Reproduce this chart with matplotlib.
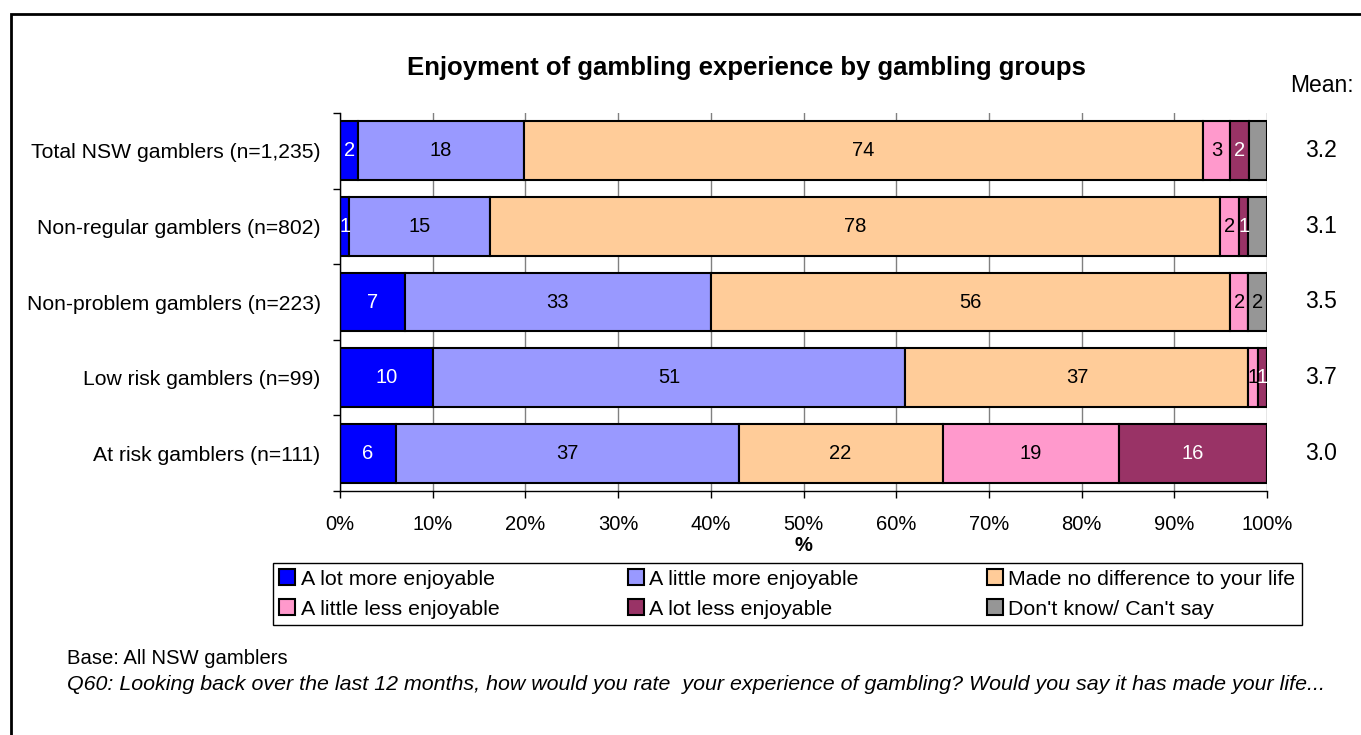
import numpy as np
import matplotlib
matplotlib.use("Agg")
import matplotlib.pyplot as plt
from matplotlib.patches import Rectangle
from matplotlib.transforms import blended_transform_factory

plt.rcParams['font.family'] = ['Liberation Sans', 'DejaVu Sans']

groups = ['Total NSW gamblers (n=1,235)', 'Non-regular gamblers (n=802)',
          'Non-problem gamblers (n=223)', 'Low risk gamblers (n=99)',
          'At risk gamblers (n=111)']
lot_more = [2, 1, 7, 10, 6]
little_more = [18, 15, 33, 51, 37]
no_difference = [74, 78, 56, 37, 22]
little_less = [3, 2, 2, 1, 19]
lot_less = [2, 1, 0, 1, 16]
dont_know = [2, 2, 2, 0, 0]
dont_know_shown = [False, False, True, False, False]
means = ['3.2', '3.1', '3.5', '3.7', '3.0']

series_names = ['A lot more enjoyable', 'A little more enjoyable',
                'Made no difference to your life', 'A little less enjoyable',
                'A lot less enjoyable', "Don't know/ Can't say"]
colors = ['#0000FF', '#9999FF', '#FFCC99', '#FF99CC', '#993366', '#969696']
text_colors = ['white', 'black', 'black', 'black', 'white', 'black']

data = np.array([lot_more, little_more, no_difference, little_less,
                 lot_less, dont_know], dtype=float)
shares = data / data.sum(axis=0) * 100

fig = plt.figure(figsize=(13.61, 7.35), dpi=100)
ax = fig.add_axes([340 / 1361, 1 - 491 / 735, 927 / 1361, 378 / 735])

y = np.arange(len(groups))
left = np.zeros(len(groups))
handles = []
for i, name in enumerate(series_names):
    bars = ax.barh(y, shares[i], left=left, height=0.78, color=colors[i],
                   edgecolor='black', linewidth=1.5, label=name)
    handles.append(bars)
    for j in range(len(groups)):
        v = data[i, j]
        if v <= 0:
            continue
        if i == 5 and not dont_know_shown[j]:
            continue
        ax.text(left[j] + shares[i, j] / 2, y[j], f'{v:.0f}', ha='center',
                va='center', fontsize=14.5, color=text_colors[i])
    left += shares[i]

ax.set_xlim(0, 100)
ax.set_ylim(len(groups) - 0.5, -0.5)
ax.set_xticks(np.arange(0, 101, 10))
ax.set_xticklabels([f'{t}%' for t in range(0, 101, 10)], fontsize=14.5)
ax.set_yticks(np.arange(-0.5, len(groups), 1))
ax.set_yticklabels([])
ax.set_yticks(y, minor=True)
ax.set_yticklabels(groups, minor=True, fontsize=15.2)
ax.tick_params(axis='y', which='minor', length=0, pad=14)
ax.tick_params(axis='y', which='major', length=5, width=1)
ax.tick_params(axis='x', length=5, width=1, pad=12)
ax.xaxis.grid(True, color='#808080', linewidth=1)
ax.set_axisbelow(True)
for s in ['top', 'right']:
    ax.spines[s].set_visible(False)
ax.spines['left'].set_linewidth(1)
ax.spines['bottom'].set_linewidth(1)
ax.set_xlabel('%', fontsize=14.5, fontweight='bold', labelpad=2)

# mean score column on the right
mean_tr = blended_transform_factory(fig.transFigure, ax.transData)
for j, m in enumerate(means):
    ax.text(1321 / 1361, y[j], m, transform=mean_tr, ha='center',
            va='center', fontsize=16.5)
fig.text(1322 / 1361, 1 - 85 / 735, 'Mean:', ha='center', va='center',
         fontsize=16.5)

fig.text(746 / 1361, 1 - 68 / 735,
         'Enjoyment of gambling experience by gambling groups',
         ha='center', va='center', fontsize=18.5, fontweight='bold')

# legend reads row by row: reorder for matplotlib's column filling
order = [0, 3, 1, 4, 2, 5]
fig.legend(handles=[handles[k] for k in order], ncol=3, loc='upper left',
           bbox_to_anchor=(273 / 1361, 1 - 563 / 735), fontsize=15.4,
           frameon=True, fancybox=False, edgecolor='black', framealpha=1,
           borderpad=0.3, labelspacing=0.5, handlelength=0.75,
           handleheight=0.75, handletextpad=0.25, columnspacing=6.0,
           borderaxespad=0)

fig.text(67 / 1361, 1 - 658 / 735, 'Base: All NSW gamblers', ha='left',
         va='center', fontsize=14.6)
fig.text(67 / 1361, 1 - 684 / 735,
         'Q60: Looking back over the last 12 months, how would you rate  your '
         'experience of gambling? Would you say it has made your life...',
         ha='left', va='center', fontsize=15.4, style='italic')

# outer frame
fig.add_artist(Rectangle((11 / 1361, -0.1), 1.2, 1.1 - 14 / 735,
                         transform=fig.transFigure, fill=False,
                         edgecolor='black', linewidth=2))

fig.savefig('out.png', dpi=100)
